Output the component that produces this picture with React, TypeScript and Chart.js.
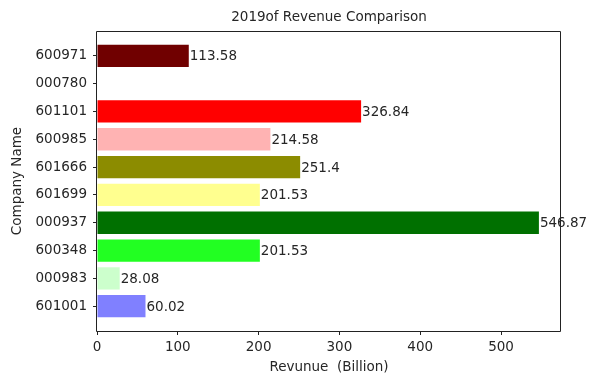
import React, { useEffect, useRef } from "react";
import { Chart, registerables } from "chart.js";

Chart.register(...registerables);

// Data (top to bottom as shown in the reference)
const companies = ["600971", "000780", "601101", "600985", "601666", "601699", "000937", "600348", "000983", "601001"];
const revenues: (number | null)[] = [113.58, null, 326.84, 214.58, 251.4, 201.53, 546.87, 201.53, 28.08, 60.02];
const barColors = ["#700000", "#000000", "#ff0000", "#ffb3b3", "#8c8c00", "#ffff8f", "#007000", "#22ff22", "#ccffcc", "#8080ff"];
const xTicks = [0, 100, 200, 300, 400, 500];
const chartTitle = "2019of Revenue Comparison";
const xTitle = "Revunue  (Billion)";
const yTitle = "Company Name";

const FONT = "'DejaVu Sans', sans-serif";
const FS = 13.5;
const TEXT = "#262626";

export default function App() {
  const ref = useRef<HTMLCanvasElement | null>(null);

  useEffect(() => {
    const n = companies.length;
    const points: { x: number; y: number }[] = [];
    const colors: string[] = [];
    const labelsText: string[] = [];
    companies.forEach((c, k) => {
      const v = revenues[k];
      if (v === null) return;
      points.push({ x: v, y: n - 1 - k });
      colors.push(barColors[k]);
      labelsText.push(String(v));
    });
    const maxV = Math.max(...(revenues.filter((v) => v !== null) as number[]));
    const yMin = -0.4 - 0.05 * (n - 1 + 0.8);
    const yMax = n - 1 + 0.4 + 0.05 * (n - 1 + 0.8);

    const overlay = {
      id: "overlay",
      afterDraw(chart: any) {
        const { ctx, chartArea } = chart;
        const { left, right, top, bottom } = chartArea;
        ctx.save();
        ctx.strokeStyle = "#222";
        ctx.lineWidth = 1;
        ctx.beginPath();
        ctx.rect(Math.round(left) - 0.5, Math.round(top) + 0.5, Math.round(right - left), Math.round(bottom - top));
        ctx.stroke();
        ctx.fillStyle = TEXT;
        ctx.font = `${FS}px ${FONT}`;
        ctx.textAlign = "center";
        ctx.textBaseline = "middle";
        ctx.fillText(chartTitle, (left + right) / 2, 17);
        ctx.fillText(xTitle, (left + right) / 2, 367);
        ctx.save();
        ctx.translate(17, (top + bottom) / 2);
        ctx.rotate(-Math.PI / 2);
        ctx.fillText(yTitle, 0, 0);
        ctx.restore();
        const xs = chart.scales.x;
        const ys = chart.scales.y;
        ctx.textAlign = "left";
        points.forEach((p, i) => {
          const px = xs.getPixelForValue(p.x);
          const py = ys.getPixelForValue(p.y);
          ctx.fillText(labelsText[i], px + 1, py + 1);
        });
        ctx.restore();
      },
    };

    const chart = new Chart(ref.current as HTMLCanvasElement, {
      type: "bar",
      data: {
        datasets: [
          {
            data: points as any,
            backgroundColor: colors,
            borderWidth: 0,
            barPercentage: 0.8,
            categoryPercentage: 1,
          },
        ],
      },
      options: {
        indexAxis: "y",
        animation: false,
        responsive: false,
        maintainAspectRatio: false,
        layout: { padding: { top: 31, right: 54, left: 0, bottom: 0 } },
        plugins: { legend: { display: false }, tooltip: { enabled: false }, title: { display: false } },
        scales: {
          x: {
            type: "linear",
            offset: false,
            min: 0,
            max: maxV * 1.05,
            afterBuildTicks: (s: any) => {
              s.ticks = xTicks.map((v) => ({ value: v }));
            },
            afterFit: (s: any) => {
              s.height = 49;
            },
            grid: { offset: false, drawOnChartArea: false, drawTicks: true, tickLength: 4, color: "#222" },
            border: { display: false },
            ticks: { color: TEXT, font: { family: FONT, size: FS }, padding: 4, maxRotation: 0 },
          },
          y: {
            type: "linear",
            offset: false,
            min: yMin,
            max: yMax,
            afterBuildTicks: (s: any) => {
              s.ticks = companies.map((_, k) => ({ value: k }));
            },
            afterFit: (s: any) => {
              s.width = 97;
            },
            grid: { offset: false, drawOnChartArea: false, drawTicks: true, tickLength: 4, color: "#222" },
            border: { display: false },
            ticks: {
              color: TEXT,
              font: { family: FONT, size: FS },
              padding: 6,
              callback: (v: any) => companies[n - 1 - Number(v)] ?? "",
            },
          },
        },
      },
      plugins: [overlay],
    });
    return () => chart.destroy();
  }, []);

  return (
    <div style={{ position: "fixed", left: 0, top: 0, width: 615, height: 380, background: "#fff" }}>
      <canvas ref={ref} width={615} height={380} style={{ width: 615, height: 380 }} />
    </div>
  );
}
